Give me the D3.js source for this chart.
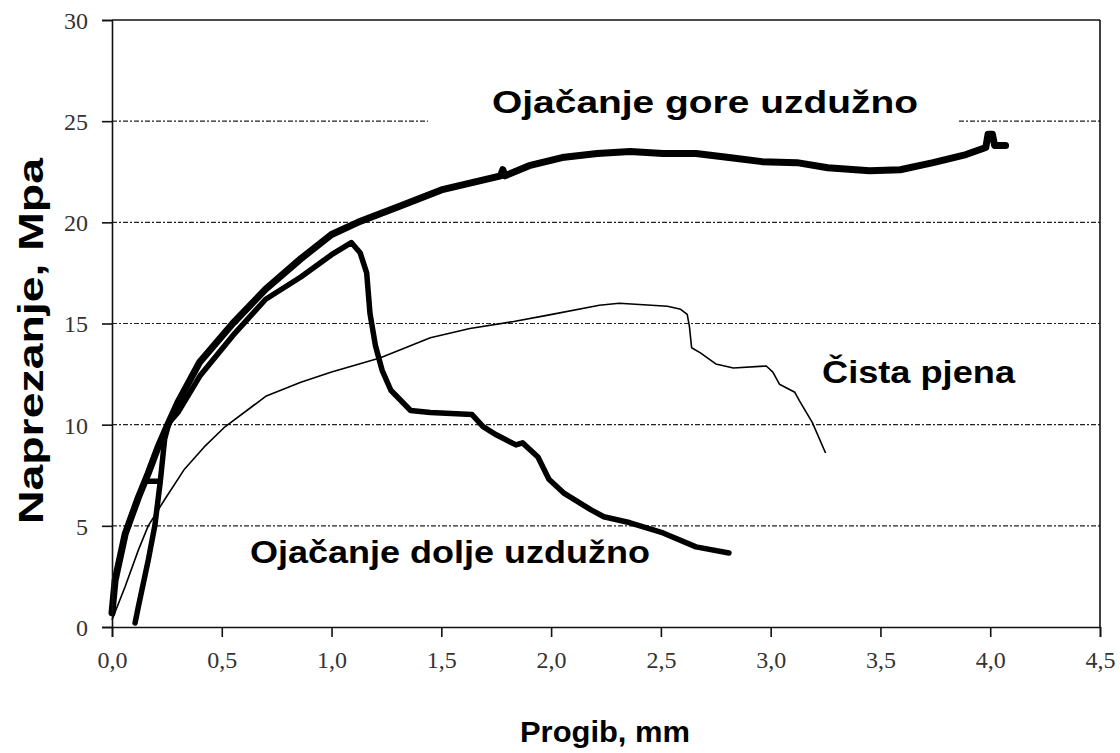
<!DOCTYPE html>
<html><head><meta charset="utf-8">
<script src="https://cdn.jsdelivr.net/npm/d3@7"></script>
<style>body{margin:0;background:#fff}svg{display:block}</style>
</head><body>
<svg id="c" width="1120" height="753"></svg>
<script>
// ---- data ----
const xTicks = [0, 0.5, 1.0, 1.5, 2.0, 2.5, 3.0, 3.5, 4.0, 4.5];
const yTicks = [0, 5, 10, 15, 20, 25, 30];
const gridValues = [5, 10, 15, 20, 25];

const goreX = [0.000,0.014,0.06,0.12,0.165,0.21,0.25,0.30,0.40,0.55,0.70,0.86,1.00,1.12,1.31,1.50,1.77,1.78,1.79,1.90,2.05,2.21,2.36,2.51,2.66,2.81,2.96,3.12,3.26,3.45,3.59,3.74,3.89,3.98,3.99,4.01,4.02,4.07];
const goreY = [0.7,2.3,4.6,6.4,7.6,8.9,9.9,11.1,13.1,15.0,16.7,18.2,19.4,20.0,20.8,21.6,22.3,22.6,22.3,22.8,23.2,23.4,23.5,23.4,23.4,23.2,23.0,22.95,22.7,22.55,22.6,22.95,23.35,23.7,24.35,24.35,23.8,23.8];

const doljeX = [0.105,0.12,0.165,0.195,0.22,0.15,0.22,0.24,0.26,0.30,0.40,0.55,0.70,0.86,1.00,1.09,1.13,1.16,1.175,1.20,1.23,1.27,1.36,1.45,1.64,1.69,1.75,1.84,1.87,1.94,1.99,2.06,2.18,2.24,2.36,2.51,2.66,2.81];
const doljeY = [0.2,1.0,3.3,5.0,7.2,7.2,7.2,9.3,10.1,10.6,12.4,14.4,16.2,17.3,18.4,19.0,18.5,17.5,15.5,13.9,12.7,11.7,10.7,10.6,10.5,9.9,9.5,9.0,9.1,8.4,7.3,6.6,5.8,5.45,5.15,4.65,3.96,3.66];

const pjenaX = [0.00,0.06,0.12,0.165,0.24,0.33,0.42,0.51,0.70,0.86,1.00,1.22,1.45,1.63,1.83,1.98,2.22,2.31,2.53,2.59,2.62,2.63,2.64,2.68,2.75,2.83,2.98,3.01,3.04,3.11,3.13,3.19,3.25];
const pjenaY = [0.35,2.0,3.8,5.0,6.3,7.8,8.9,9.85,11.4,12.1,12.6,13.3,14.3,14.75,15.1,15.4,15.9,16.0,15.85,15.7,15.45,14.85,13.8,13.55,13.0,12.8,12.9,12.6,12.0,11.6,11.2,10.1,8.6];

const labels = {
  gore: "Ojačanje gore uzdužno",
  pjena: "Čista pjena",
  dolje: "Ojačanje dolje uzdužno",
  xTitle: "Progib, mm",
  yTitle: "Naprezanje, Mpa"
};

// ---- layout ----
const L = 112, R = 1100, T = 20, B = 627;
const svg = d3.select("#c");
const x = d3.scaleLinear().domain([0, 4.5]).range([L, R]);
const y = d3.scaleLinear().domain([0, 30]).range([B, T]);
const fmt = d => d3.format(".1f")(d).replace(".", ",");

// gridlines
svg.append("g").selectAll("line").data(gridValues).join("line")
  .attr("x1", L).attr("x2", R)
  .attr("y1", d => y(d)).attr("y2", d => y(d))
  .attr("stroke", "#222").attr("stroke-width", 1.2)
  .attr("stroke-dasharray", "5,2,2,2");

// label box for top annotation (covers gridline)
svg.append("rect").attr("x", 428).attr("y", 84).attr("width", 530).attr("height", 46).attr("fill", "#fff");

// series
const line = d3.line().x(d => x(d[0])).y(d => y(d[1]));
const zip = (a, b) => a.map((v, i) => [v, b[i]]);
svg.append("path").datum(zip(pjenaX, pjenaY)).attr("d", line)
  .attr("fill", "none").attr("stroke", "#000").attr("stroke-width", 1.6).attr("stroke-linejoin", "round");
svg.append("path").datum(zip(doljeX, doljeY)).attr("d", line)
  .attr("fill", "none").attr("stroke", "#000").attr("stroke-width", 5.5).attr("stroke-linejoin", "round").attr("stroke-linecap", "round");
svg.append("path").datum(zip(goreX, goreY)).attr("d", line)
  .attr("fill", "none").attr("stroke", "#000").attr("stroke-width", 7).attr("stroke-linejoin", "round").attr("stroke-linecap", "round");

// axes
const xAxis = d3.axisBottom(x).tickValues(xTicks).tickFormat(fmt).tickSize(10).tickPadding(14);
const gx = svg.append("g").attr("transform", `translate(0,${B})`).call(xAxis);
const yAxis = d3.axisLeft(y).tickValues(yTicks).tickFormat(d3.format("d")).tickSize(10).tickPadding(14);
const gy = svg.append("g").attr("transform", `translate(${L},0)`).call(yAxis);
[gx, gy].forEach(g => {
  g.select(".domain").attr("stroke", "#111").attr("stroke-width", 1.6);
  g.selectAll(".tick line").attr("stroke", "#111").attr("stroke-width", 1.6);
  g.selectAll("text").attr("font-family", "'Liberation Serif', 'Times New Roman', serif")
    .attr("font-size", 24).attr("fill", "#333");
});
gy.selectAll("text").attr("dy", "0.35em");
// top & right frame
svg.append("line").attr("x1", L).attr("x2", R).attr("y1", T).attr("y2", T).attr("stroke", "#111").attr("stroke-width", 1.6);
svg.append("line").attr("x1", R).attr("x2", R).attr("y1", T).attr("y2", B).attr("stroke", "#111").attr("stroke-width", 1.6);

// annotations
const sans = "'Liberation Sans', Arial, sans-serif";
function txt(s, xx, yy, anchor, size, len) {
  return svg.append("text").text(s).attr("x", xx).attr("y", yy)
    .attr("text-anchor", anchor).attr("font-family", sans).attr("font-weight", "bold")
    .attr("font-size", size).attr("fill", "#000")
    .attr("textLength", len).attr("lengthAdjust", "spacingAndGlyphs");
}
txt(labels.gore, 492, 113, "start", 32, 426);
txt(labels.pjena, 822, 383, "start", 32, 193);
txt(labels.dolje, 250, 563, "start", 32, 400);
txt(labels.xTitle, 605, 742, "middle", 30, 170);
txt(labels.yTitle, 0, 0, "middle", 35, 366).attr("transform", "translate(43,341) rotate(-90)");
</script>
</body></html>
